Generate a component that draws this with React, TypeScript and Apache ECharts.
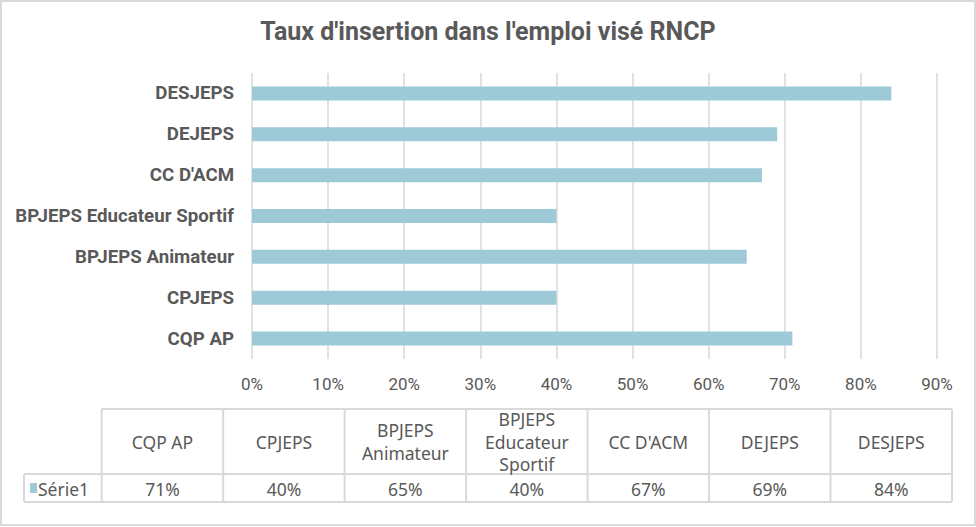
import React, { useEffect, useRef } from "react";
import * as echarts from "echarts";

const categories: string[] = [
  "CQP AP",
  "CPJEPS",
  "BPJEPS Animateur",
  "BPJEPS Educateur Sportif",
  "CC D'ACM",
  "DEJEPS",
  "DESJEPS",
];
const values: number[] = [71, 40, 65, 40, 67, 69, 84];
const tableHeaders: string[] = [
  "CQP AP",
  "CPJEPS",
  "BPJEPS\nAnimateur",
  "BPJEPS\nEducateur\nSportif",
  "CC D'ACM",
  "DEJEPS",
  "DESJEPS",
];
const seriesName = "Série1";
const titleText = "Taux d'insertion dans l'emploi visé RNCP";

const BAR = "#9ecad8";
const GRID = "#d9d9d9";
const TXT = "#595959";

export default function App() {
  const ref = useRef<HTMLDivElement>(null);
  useEffect(() => {
    document.body.style.margin = "0";
    if (!ref.current) return;
    const chart = echarts.init(ref.current, undefined, { renderer: "svg" });

    const tLeft = 101.7;
    const tRight = 952;
    const legLeft = 24;
    const hTop = 409;
    const hBot = 474;
    const dBot = 502;
    const colW = (tRight - tLeft) / categories.length;
    const tableFont = "'Noto Sans', sans-serif";
    const tSize = 17.5;

    const graphics: any[] = [];
    graphics.push({
      type: "rect",
      shape: { x: 1, y: 1, width: 974, height: 524 },
      style: { fill: "none", stroke: GRID, lineWidth: 2 },
      silent: true,
    });
    const hl = (x1: number, x2: number, y: number) =>
      graphics.push({
        type: "line",
        shape: { x1, y1: y, x2, y2: y },
        style: { stroke: GRID, lineWidth: 2 },
        silent: true,
      });
    const vl = (x: number, y1: number, y2: number) =>
      graphics.push({
        type: "line",
        shape: { x1: x, y1, x2: x, y2 },
        style: { stroke: GRID, lineWidth: 2 },
        silent: true,
      });
    hl(tLeft, tRight, hTop);
    hl(legLeft, tRight, hBot);
    hl(legLeft, tRight, dBot);
    vl(legLeft, hBot, dBot);
    for (let i = 0; i <= categories.length; i++) {
      vl(tLeft + i * colW, hTop, dBot);
    }
    tableHeaders.forEach((h, i) => {
      graphics.push({
        type: "text",
        x: tLeft + (i + 0.5) * colW,
        y: (hTop + hBot) / 2,
        style: {
          text: h,
          fill: TXT,
          font: `${tSize}px ${tableFont}`,
          align: "center",
          verticalAlign: "middle",
          lineHeight: 22.5,
        },
        silent: true,
      });
    });
    values.forEach((v, i) => {
      graphics.push({
        type: "text",
        x: tLeft + (i + 0.5) * colW,
        y: (hBot + dBot) / 2 + 1,
        style: {
          text: `${v}%`,
          fill: TXT,
          font: `${tSize}px ${tableFont}`,
          align: "center",
          verticalAlign: "middle",
        },
        silent: true,
      });
    });
    graphics.push({
      type: "rect",
      shape: { x: 30, y: 483, width: 7, height: 10 },
      style: { fill: BAR },
      silent: true,
    });
    graphics.push({
      type: "text",
      x: 38,
      y: (hBot + dBot) / 2 + 1,
      style: {
        text: seriesName,
        fill: TXT,
        font: `${tSize}px ${tableFont}`,
        align: "left",
        verticalAlign: "middle",
      },
      silent: true,
    });

    chart.setOption({
      animation: false,
      title: {
        text: titleText,
        left: "center",
        top: 14,
        textStyle: {
          fontFamily: "Roboto",
          fontWeight: "bold",
          fontSize: 25,
          color: TXT,
        },
      },
      grid: { left: 252, right: 39, top: 73, height: 286, containLabel: false },
      xAxis: {
        type: "value",
        min: 0,
        max: 90,
        interval: 10,
        axisLine: { show: false },
        axisTick: { show: false },
        splitLine: { lineStyle: { color: GRID, width: 1.5 } },
        axisLabel: {
          formatter: (v: number) => `${v}%`,
          color: TXT,
          fontFamily: "Roboto",
          fontSize: 17,
          margin: 16,
        },
      },
      yAxis: {
        type: "category",
        data: categories,
        axisLine: { show: false },
        axisTick: { show: false },
        axisLabel: {
          color: TXT,
          fontFamily: "Roboto",
          fontWeight: "bold",
          fontSize: 18.7,
          margin: 18,
        },
      },
      series: [
        {
          name: seriesName,
          type: "bar",
          data: values,
          barWidth: 14,
          itemStyle: { color: BAR },
          silent: true,
        },
      ],
      graphic: graphics,
    });
    return () => chart.dispose();
  }, []);
  return <div ref={ref} style={{ width: 976, height: 527 }} />;
}
